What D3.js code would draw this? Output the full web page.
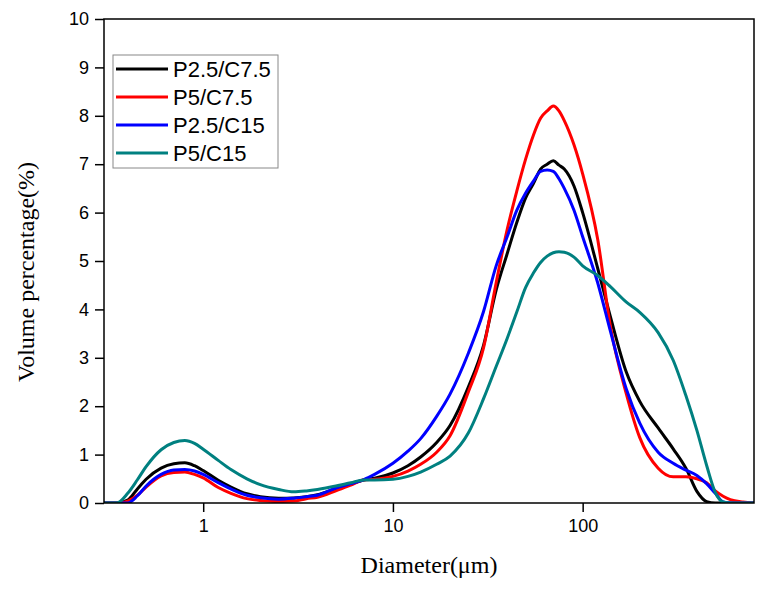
<!DOCTYPE html>
<html>
<head>
<meta charset="utf-8">
<script src="https://cdn.jsdelivr.net/npm/d3@7"></script>
<style>
  html, body { margin: 0; padding: 0; background: #fff; }
  svg { display: block; }
</style>
</head>
<body>
<svg id="chart" width="771" height="590"></svg>
<script>
// Diameter grid (µm)
const diameters = [0.3, 0.35, 0.4, 0.45, 0.5, 0.6, 0.7, 0.8, 0.9, 1.0, 1.2, 1.4, 1.7, 2, 2.5, 3, 3.5, 4, 5, 6, 7, 8, 10, 12, 14, 17, 20, 25, 30, 35, 40, 45, 50, 55, 60, 65, 70, 75, 80, 90, 100, 120, 140, 170, 200, 250, 300, 350, 400, 450, 500, 550, 600, 700, 800];

const seriesNames = ["P2.5/C7.5", "P5/C7.5", "P2.5/C15", "P5/C15"];
const seriesColors = ["#000000", "#ff0000", "#0000ff", "#008080"];

const valuesP25C75 = [0, 0, 0.06, 0.29, 0.49, 0.72, 0.81, 0.83, 0.77, 0.67, 0.47, 0.33, 0.19, 0.13, 0.10, 0.105, 0.13, 0.17, 0.29, 0.39, 0.475, 0.51, 0.62, 0.77, 0.95, 1.25, 1.6, 2.4, 3.25, 4.4, 5.15, 5.8, 6.3, 6.6, 6.9, 7.0, 7.07, 6.98, 6.9, 6.55, 6.0, 4.85, 3.85, 2.7, 2.1, 1.55, 1.12, 0.72, 0.24, 0.03, 0, 0, 0, 0, 0];
const valuesP5C75 = [0, 0, 0.04, 0.16, 0.33, 0.56, 0.63, 0.64, 0.59, 0.52, 0.32, 0.2, 0.09, 0.05, 0.03, 0.04, 0.09, 0.12, 0.25, 0.37, 0.475, 0.49, 0.55, 0.66, 0.8, 1.05, 1.39, 2.3, 3.2, 4.55, 5.65, 6.45, 7.1, 7.6, 7.95, 8.1, 8.2, 8.1, 7.9, 7.4, 6.8, 5.45, 3.65, 2.25, 1.35, 0.72, 0.54, 0.54, 0.5, 0.42, 0.25, 0.14, 0.07, 0.02, 0];
const valuesP25C15 = [0, 0, 0, 0.15, 0.35, 0.59, 0.68, 0.69, 0.66, 0.59, 0.42, 0.29, 0.16, 0.11, 0.08, 0.10, 0.13, 0.16, 0.31, 0.4, 0.48, 0.59, 0.82, 1.07, 1.33, 1.79, 2.25, 3.1, 3.95, 4.9, 5.5, 6.05, 6.4, 6.65, 6.85, 6.88, 6.85, 6.7, 6.5, 6.05, 5.5, 4.55, 3.55, 2.35, 1.65, 1.05, 0.82, 0.68, 0.57, 0.4, 0.2, 0.02, 0, 0, 0];
const valuesP5C15 = [0, 0, 0.2, 0.48, 0.75, 1.1, 1.25, 1.29, 1.23, 1.11, 0.88, 0.69, 0.5, 0.38, 0.28, 0.23, 0.25, 0.28, 0.35, 0.42, 0.475, 0.475, 0.49, 0.55, 0.64, 0.8, 0.97, 1.45, 2.15, 2.82, 3.4, 3.95, 4.45, 4.75, 4.97, 5.1, 5.17, 5.19, 5.18, 5.08, 4.9, 4.7, 4.47, 4.15, 3.94, 3.52, 2.95, 2.22, 1.5, 0.78, 0.22, 0.02, 0, 0, 0];

const seriesValues = [valuesP25C75, valuesP5C75, valuesP25C15, valuesP5C15];

const xTickValues = [1, 10, 100];
const xTickLabels = ["1", "10", "100"];
const yTickValues = [0, 1, 2, 3, 4, 5, 6, 7, 8, 9, 10];

const xTitle = "Diameter(\u03bcm)";
const yTitle = "Volume percentage(%)";

// Layout
const plot = { left: 104, right: 754, top: 19, bottom: 503 };

const svg = d3.select("#chart");

const x = d3.scaleLog().domain([0.3, 800]).range([plot.left, plot.right]);
const y = d3.scaleLinear().domain([0, 10]).range([plot.bottom, plot.top]);

svg.append("defs").append("clipPath").attr("id", "clip")
  .append("rect")
  .attr("x", plot.left).attr("y", plot.top)
  .attr("width", plot.right - plot.left).attr("height", plot.bottom - plot.top);

// Lines
const line = d3.line()
  .x(d => x(d[0]))
  .y(d => y(d[1]))
  .curve(d3.curveMonotoneX);

const linesG = svg.append("g").attr("clip-path", "url(#clip)");
seriesValues.forEach((vals, i) => {
  const pts = diameters.map((d, j) => [d, vals[j]]);
  linesG.append("path")
    .datum(pts)
    .attr("d", line)
    .attr("fill", "none")
    .attr("stroke", seriesColors[i])
    .attr("stroke-width", 3)
    .attr("stroke-linejoin", "round");
});

// Frame
svg.append("rect")
  .attr("x", plot.left).attr("y", plot.top)
  .attr("width", plot.right - plot.left).attr("height", plot.bottom - plot.top)
  .attr("fill", "none").attr("stroke", "#000").attr("stroke-width", 1.5);

// Axes
const xAxis = d3.axisBottom(x)
  .tickValues(xTickValues)
  .tickFormat((d, i) => xTickLabels[i])
  .tickSize(9).tickPadding(7);
const gx = svg.append("g").attr("transform", `translate(0,${plot.bottom})`).call(xAxis);
gx.select(".domain").remove();
gx.selectAll("line").attr("stroke", "#000").attr("stroke-width", 1.5);
gx.selectAll("text").attr("font-family", "Arial, 'Liberation Sans', sans-serif").attr("font-size", 18).attr("fill", "#000");

const yAxis = d3.axisLeft(y)
  .tickValues(yTickValues)
  .tickSize(9).tickPadding(6);
const gy = svg.append("g").attr("transform", `translate(${plot.left},0)`).call(yAxis);
gy.select(".domain").remove();
gy.selectAll("line").attr("stroke", "#000").attr("stroke-width", 1.5);
gy.selectAll("text").attr("font-family", "Arial, 'Liberation Sans', sans-serif").attr("font-size", 18).attr("fill", "#000");

// Axis titles
svg.append("text")
  .attr("x", 429)
  .attr("y", 573)
  .attr("text-anchor", "middle")
  .attr("font-family", "'Times New Roman', 'Liberation Serif', serif")
  .attr("font-size", 24)
  .attr("fill", "#000")
  .text(xTitle);

svg.append("text")
  .attr("transform", `translate(34,272) rotate(-90)`)
  .attr("text-anchor", "middle")
  .attr("font-family", "'Times New Roman', 'Liberation Serif', serif")
  .attr("font-size", 24)
  .attr("fill", "#000")
  .text(yTitle);

// Legend
const legend = svg.append("g");
legend.append("rect")
  .attr("x", 113).attr("y", 55).attr("width", 165).attr("height", 113)
  .attr("fill", "#fff").attr("stroke", "#888").attr("stroke-width", 1);
seriesNames.forEach((name, i) => {
  const cy = 69 + i * 28;
  legend.append("line")
    .attr("x1", 116).attr("x2", 168).attr("y1", cy).attr("y2", cy)
    .attr("stroke", seriesColors[i]).attr("stroke-width", 3);
  legend.append("text")
    .attr("x", 173).attr("y", cy)
    .attr("dy", "0.36em")
    .attr("font-family", "Arial, 'Liberation Sans', sans-serif")
    .attr("font-size", 22)
    .attr("fill", "#000")
    .text(name);
});
</script>
</body>
</html>
